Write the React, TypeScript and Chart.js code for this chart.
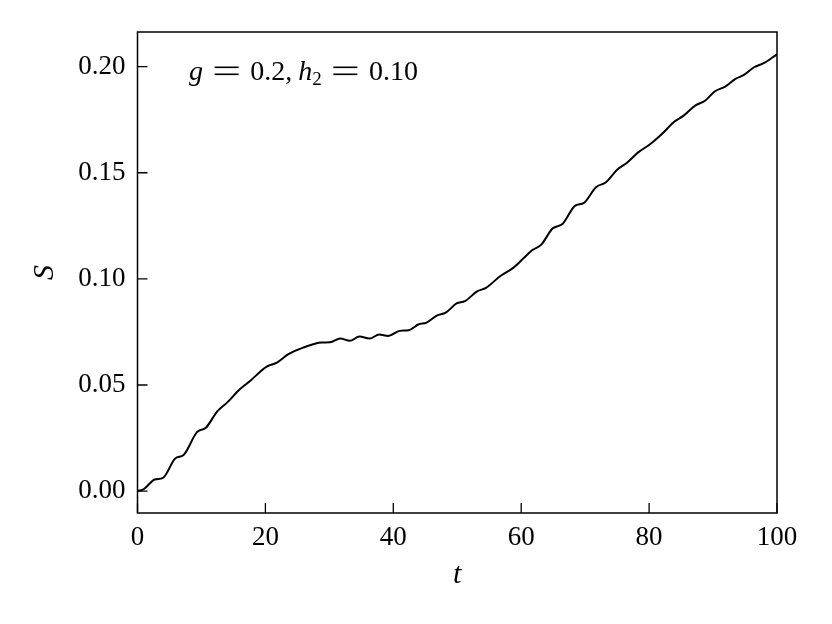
import React, { useEffect, useRef } from "react";
import { Chart, registerables } from "chart.js";

Chart.register(...registerables);

const tValues = [0, 1, 2.7, 4.0, 5.9, 7.2, 9.3, 10.7, 12.5, 14.0, 16.0, 17.6, 20.2, 21.8, 23.6, 25.9, 28.8, 30.1, 31.7, 33.2, 34.7, 36.3, 37.8, 39.2, 41.0, 42.4, 43.9, 45.2, 46.8, 48.2, 49.9, 51.2, 53.1, 54.5, 56.8, 58.8, 60.4, 61.7, 63.1, 64.9, 66.5, 68.4, 69.8, 71.7, 73.2, 75.0, 76.5, 78.3, 80.2, 82.0, 83.8, 85.4, 87.2, 88.8, 90.3, 91.9, 93.5, 94.9, 96.4, 98.0, 100];
const sValues = [0, 0.001, 0.0055, 0.0063, 0.0154, 0.017, 0.0278, 0.0299, 0.0377, 0.0417, 0.048, 0.0519, 0.0587, 0.0605, 0.0645, 0.0676, 0.07, 0.0701, 0.0719, 0.0708, 0.0728, 0.0719, 0.0738, 0.0731, 0.0755, 0.0758, 0.0785, 0.0794, 0.0827, 0.0841, 0.0884, 0.0895, 0.0941, 0.0958, 0.1015, 0.1053, 0.1098, 0.1135, 0.116, 0.1237, 0.126, 0.1344, 0.1358, 0.1432, 0.1454, 0.1514, 0.1546, 0.1596, 0.1635, 0.1682, 0.1737, 0.1769, 0.1816, 0.184, 0.1884, 0.1906, 0.1942, 0.1962, 0.1997, 0.2017, 0.2058];

const xTicks = [0, 20, 40, 60, 80, 100];
const yTicks = [0, 0.05, 0.1, 0.15, 0.2];
const xLabel = "t";
const yLabel = "S";

const FONT = "'Liberation Serif', 'DejaVu Serif', serif";

const framePlugin = {
  id: "frame",
  afterDraw(chart: any) {
    const { ctx, chartArea } = chart;
    const xs = chart.scales.x;
    const ys = chart.scales.y;
    ctx.save();
    ctx.strokeStyle = "#000";
    ctx.lineWidth = 1.5;
    ctx.strokeRect(chartArea.left, chartArea.top, chartArea.right - chartArea.left, chartArea.bottom - chartArea.top);
    ctx.lineWidth = 1.3;
    ctx.beginPath();
    for (const v of xTicks) {
      const px = xs.getPixelForValue(v);
      ctx.moveTo(px, chartArea.bottom);
      ctx.lineTo(px, chartArea.bottom - 10);
    }
    for (const v of yTicks) {
      const py = ys.getPixelForValue(v);
      ctx.moveTo(chartArea.left, py);
      ctx.lineTo(chartArea.left + 10, py);
    }
    ctx.stroke();

    // annotation: g = 0.2, h_2 = 0.10 (math-style spacing)
    const base = 80;
    const startX = 189;
    const endX = 418;
    const eqW = 24;
    ctx.fillStyle = "#000";
    ctx.textBaseline = "alphabetic";
    ctx.textAlign = "left";
    const fIt = "italic 28px " + FONT;
    const fRm = "28px " + FONT;
    const fSub = "19px " + FONT;
    const meas = (t: string, f: string) => {
      ctx.font = f;
      return ctx.measureText(t).width;
    };
    const wG = meas("g", fIt);
    const w02 = meas("0.2,", fRm);
    const wH = meas("h", fIt);
    const w2 = meas("2", fSub);
    const w010 = meas("0.10", fRm);
    const commaGap = 6;
    const total = wG + w02 + wH + w2 + w010 + 2 * eqW + commaGap;
    const gap = (endX - startX - total) / 4;
    const drawEq = (x0: number) => {
      ctx.fillRect(x0, base - 13.5, eqW, 1.6);
      ctx.fillRect(x0, base - 6.5, eqW, 1.6);
    };
    let x = startX;
    ctx.font = fIt;
    ctx.fillText("g", x, base);
    x += wG + gap;
    drawEq(x);
    x += eqW + gap;
    ctx.font = fRm;
    ctx.fillText("0.2,", x, base);
    x += w02 + commaGap;
    ctx.font = fIt;
    ctx.fillText("h", x, base);
    x += wH;
    ctx.font = fSub;
    ctx.fillText("2", x, base + 5);
    x += w2 + gap;
    drawEq(x);
    x += eqW + gap;
    ctx.font = fRm;
    ctx.fillText("0.10", x, base);
    ctx.restore();
  },
};

export default function App() {
  const ref = useRef<HTMLCanvasElement>(null);
  useEffect(() => {
    if (!ref.current) return;
    const chart = new Chart(ref.current, {
      type: "scatter",
      data: {
        datasets: [
          {
            data: tValues.map((t, i) => ({ x: t, y: sValues[i] })),
            showLine: true,
            borderColor: "#000",
            borderWidth: 2,
            pointRadius: 0,
            cubicInterpolationMode: "monotone",
            fill: false,
          },
        ],
      },
      options: {
        animation: false,
        responsive: false,
        maintainAspectRatio: false,
        layout: { padding: { left: 0, right: 55, top: 32, bottom: 0 } },
        plugins: { legend: { display: false }, tooltip: { enabled: false } },
        scales: {
          x: {
            type: "linear",
            min: 0,
            max: 100,
            border: { display: false },
            grid: { display: false, drawTicks: false },
            ticks: {
              stepSize: 20,
              padding: 9,
              color: "#000",
              font: { family: FONT, size: 27 },
              maxRotation: 0,
            },
            title: {
              display: true,
              text: xLabel,
              color: "#000",
              font: { family: FONT, size: 30, style: "italic" },
              padding: { top: 0, bottom: 31 },
            },
            afterFit: (s: any) => {
              s.height = 111;
            },
          },
          y: {
            type: "linear",
            min: -0.0103,
            max: 0.2163,
            border: { display: false },
            grid: { display: false, drawTicks: false },
            ticks: {
              stepSize: 0.05,
              includeBounds: false,
              padding: 12,
              color: "#000",
              font: { family: FONT, size: 27 },
              callback: (v: any) => Number(v).toFixed(2),
            },
            title: {
              display: true,
              text: yLabel,
              color: "#000",
              font: { family: FONT, size: 30, style: "italic" },
              padding: { top: 27, bottom: 0 },
            },
            afterFit: (s: any) => {
              s.width = 137.5;
            },
          },
        },
      },
      plugins: [framePlugin],
    });
    return () => chart.destroy();
  }, []);
  return (
    <div style={{ position: "fixed", left: 0, top: 0, width: 832, height: 624, background: "#fff" }}>
      <canvas ref={ref} width={832} height={624} style={{ width: 832, height: 624 }} />
    </div>
  );
}
